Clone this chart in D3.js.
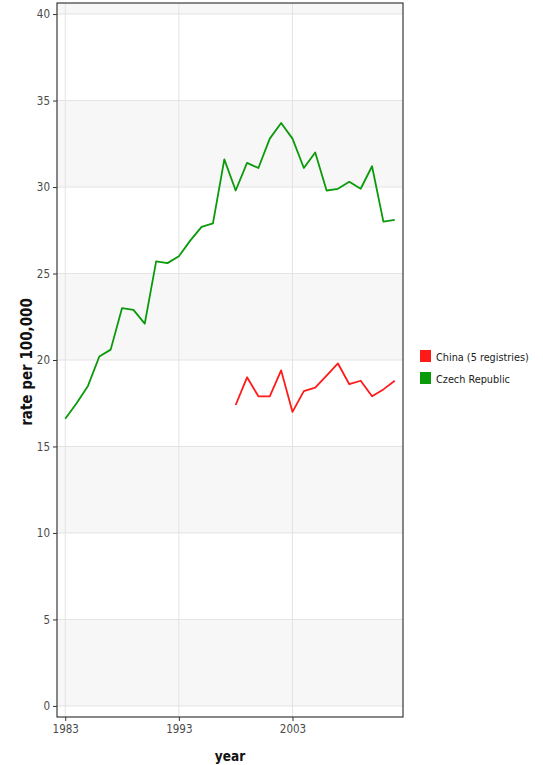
<!DOCTYPE html>
<html>
<head>
<meta charset="utf-8">
<script src="https://cdn.jsdelivr.net/npm/d3@7"></script>
<style>
  html, body { margin: 0; padding: 0; background: #fff; }
  svg { display: block; }
  text { font-family: "DejaVu Sans Condensed", "DejaVu Sans", sans-serif; }
</style>
</head>
<body>
<svg id="chart" width="543" height="765"></svg>
<script>
// Incidence rate per 100,000 by year
const years = d3.range(1983, 2013);
const czechRates = [16.6, 17.5, 18.5, 20.2, 20.6, 23.0, 22.9, 22.1, 25.7, 25.6,
                    26.0, 26.9, 27.7, 27.9, 31.6, 29.8, 31.4, 31.1, 32.8, 33.7,
                    32.8, 31.1, 32.0, 29.8, 29.9, 30.3, 29.9, 31.2, 28.0, 28.1];
const chinaYears = d3.range(1998, 2013);
const chinaRates = [17.4, 19.0, 17.9, 17.9, 19.4, 17.0, 18.2, 18.4, 19.1, 19.8,
                    18.6, 18.8, 17.9, 18.3, 18.8];
const seriesNames = ["China (5 registries)", "Czech Republic"];
const seriesColors = ["#ff1a1a", "#0a9a0a"];
const xTicks = [1983, 1993, 2003];
const yTicks = [0, 5, 10, 15, 20, 25, 30, 35, 40];

const svg = d3.select("#chart");
const panel = { left: 57, right: 403, top: 3, bottom: 717 };

const x = d3.scaleLinear()
  .domain([1983 - 0.725, 2012 + 0.725])
  .range([panel.left, panel.right]);
const y = d3.scaleLinear()
  .domain([-0.64, 40.64])
  .range([panel.bottom, panel.top]);

// alternating horizontal bands
const edges = [y.domain()[0], ...yTicks, y.domain()[1]];
const bands = d3.pairs(edges).map((p, i) => ({ lo: p[0], hi: p[1], i }));
svg.append("g").selectAll("rect").data(bands).join("rect")
  .attr("x", panel.left)
  .attr("width", panel.right - panel.left)
  .attr("y", d => y(d.hi))
  .attr("height", d => y(d.lo) - y(d.hi))
  .attr("fill", d => d.i % 2 === 1 ? "#f7f7f7" : "#ffffff");

// grid lines
const grid = svg.append("g").attr("stroke", "#e3e3e3").attr("stroke-width", 1);
grid.selectAll(".hy").data(yTicks).join("line")
  .attr("x1", panel.left).attr("x2", panel.right)
  .attr("y1", d => y(d)).attr("y2", d => y(d));
grid.selectAll(".vx").data(xTicks).join("line")
  .attr("y1", panel.top).attr("y2", panel.bottom)
  .attr("x1", d => x(d)).attr("x2", d => x(d));

// series lines
const line = d3.line().x(d => x(d[0])).y(d => y(d[1]));
const czech = years.map((yr, i) => [yr, czechRates[i]]);
const china = chinaYears.map((yr, i) => [yr, chinaRates[i]]);
svg.append("path").datum(czech)
  .attr("d", line).attr("fill", "none")
  .attr("stroke", seriesColors[1]).attr("stroke-width", 1.8)
  .attr("stroke-linejoin", "round");
svg.append("path").datum(china)
  .attr("d", line).attr("fill", "none")
  .attr("stroke", seriesColors[0]).attr("stroke-width", 1.8)
  .attr("stroke-linejoin", "round");

// axes
const yAxis = d3.axisLeft(y).tickValues(yTicks).tickSize(4).tickPadding(3);
const xAxis = d3.axisBottom(x).tickValues(xTicks).tickFormat(d3.format("d")).tickSize(4).tickPadding(4);
const gy = svg.append("g").attr("transform", `translate(${panel.left},0)`).call(yAxis);
const gx = svg.append("g").attr("transform", `translate(0,${panel.bottom})`).call(xAxis);
[gy, gx].forEach(g => {
  g.select(".domain").remove();
  g.selectAll(".tick line").attr("stroke", "#333");
  g.selectAll(".tick text").attr("fill", "#4a4a4a").style("font-size", "11.5px")
    .style("font-family", "'DejaVu Sans Condensed', 'DejaVu Sans', sans-serif");
});

// panel border
svg.append("rect")
  .attr("x", panel.left).attr("y", panel.top)
  .attr("width", panel.right - panel.left).attr("height", panel.bottom - panel.top)
  .attr("fill", "none").attr("stroke", "#3a3a3a").attr("stroke-width", 1.2);

// axis titles
svg.append("text")
  .attr("x", (panel.left + panel.right) / 2).attr("y", 761)
  .attr("text-anchor", "middle").attr("font-weight", "bold")
  .style("font-size", "13.5px").attr("fill", "#111")
  .text("year");
svg.append("text")
  .attr("transform", `translate(32,${(panel.top + panel.bottom) / 2 + 2}) rotate(-90)`)
  .attr("text-anchor", "middle").attr("font-weight", "bold")
  .style("font-size", "15px").attr("fill", "#111")
  .text("rate per 100,000");

// legend
const legend = svg.append("g").attr("transform", "translate(420,350)");
const items = legend.selectAll("g").data(seriesNames).join("g")
  .attr("transform", (d, i) => `translate(0,${i * 22})`);
items.append("rect").attr("width", 11).attr("height", 12)
  .attr("fill", (d, i) => seriesColors[i]);
items.append("text").attr("x", 16).attr("y", 10.5)
  .style("font-size", "10.8px").attr("fill", "#222")
  .text(d => d);
</script>
</body>
</html>
